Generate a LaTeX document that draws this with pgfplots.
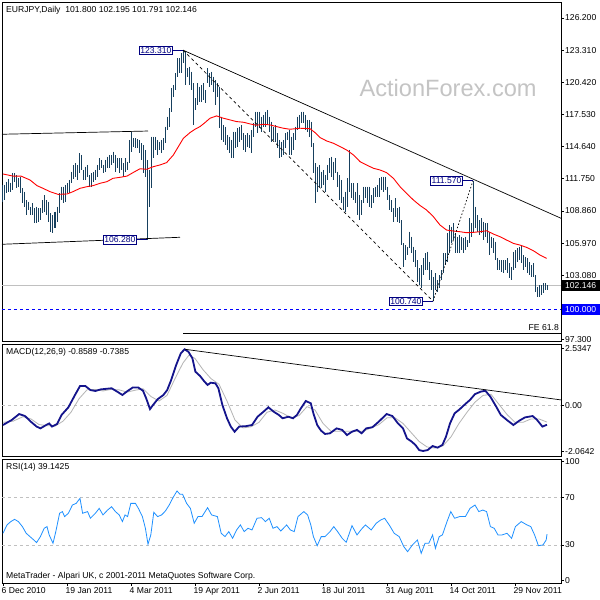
\documentclass[border=0pt]{standalone}
\usepackage{pgfplots}
\pgfplotsset{compat=1.18}
\usepackage{pgfplotstable}
\usepackage{fontspec}
\setmainfont{Liberation Sans}
\newcommand\fs{\fontsize{8.6}{10}\selectfont}

\definecolor{barc}{HTML}{17405E}
\definecolor{macdc}{HTML}{14148C}
\definecolor{sigc}{HTML}{B4B4B4}
\definecolor{rsic}{HTML}{1E90FF}
\definecolor{lvl}{HTML}{C0C0C0}
\definecolor{wm}{HTML}{C4C4C4}
\definecolor{lbl}{HTML}{000080}
\definecolor{pure}{HTML}{0000FF}

% daily bars: index, high, low
\pgfplotstableread{
i h l
0 111.19 109.63
1 111.19 109.84
2 111.49 110.44
3 111.70 110.53
4 111.40 110.59
5 112.24 110.74
6 112.24 111.49
7 112.09 110.89
8 111.79 111.04
9 111.94 110.44
10 110.89 109.60
11 110.59 109.24
12 109.84 108.49
13 109.69 108.94
14 109.24 108.49
15 109.54 108.49
16 109.09 107.74
17 109.24 107.74
18 109.09 107.89
19 109.09 108.04
20 109.84 108.64
21 110.29 108.79
22 109.84 108.49
23 109.69 107.89
24 108.64 106.99
25 108.49 106.90
26 108.79 107.29
27 109.24 107.89
28 110.44 108.64
29 111.04 109.84
30 111.04 109.60
31 111.19 109.69
32 111.34 110.44
33 111.64 110.44
34 112.39 111.34
35 112.99 111.70
36 113.14 111.94
37 112.99 111.64
38 114.04 112.24
39 113.89 112.54
40 112.54 111.64
41 112.84 111.64
42 112.99 111.94
43 112.09 111.04
44 112.24 111.04
45 112.39 111.49
46 112.54 111.64
47 112.99 111.94
48 113.59 112.54
49 113.44 112.69
50 112.99 112.24
51 113.44 112.39
52 113.74 112.69
53 113.89 112.69
54 113.89 112.99
55 114.19 113.14
56 113.89 112.39
57 113.59 112.69
58 113.59 112.24
59 113.59 112.54
60 113.14 111.94
61 113.59 112.39
62 113.29 112.54
63 115.24 113.14
64 115.99 114.19
65 115.39 114.64
66 115.39 114.49
67 115.30 114.49
68 115.24 114.04
69 114.94 113.44
70 114.79 112.24
71 114.34 111.94
72 113.44 106.28
73 112.54 109.24
74 115.54 110.89
75 115.54 113.59
76 115.54 114.34
77 115.24 113.89
78 115.09 114.34
79 115.24 114.04
80 115.39 114.34
81 116.44 114.94
82 117.34 116.14
83 118.09 116.44
84 119.89 117.79
85 120.19 119.14
86 121.24 119.74
87 122.59 120.94
88 122.59 121.24
89 123.04 121.24
90 123.31 122.14
91 123.19 120.19
92 121.69 120.94
93 121.84 120.19
94 121.39 119.74
95 120.34 116.59
96 118.99 117.94
97 120.34 118.39
98 120.04 118.69
99 120.19 118.69
100 120.34 118.84
101 119.74 118.54
102 121.69 120.34
103 121.24 120.04
104 121.39 120.19
105 120.94 119.59
106 120.64 118.39
107 120.34 119.14
108 120.04 116.29
109 117.34 115.24
110 116.59 115.09
111 116.44 114.79
112 115.69 114.34
113 115.54 114.04
114 115.24 113.59
115 115.99 113.59
116 115.99 114.49
117 116.29 114.64
118 116.44 115.09
119 116.59 115.24
120 115.84 114.34
121 115.69 114.19
122 115.84 114.64
123 115.69 114.49
124 116.14 114.04
125 116.74 115.54
126 117.79 116.44
127 117.79 115.84
128 117.79 116.29
129 117.34 115.99
130 117.49 116.44
131 117.79 116.44
132 117.94 116.59
133 117.34 115.99
134 116.89 115.09
135 116.44 115.24
136 116.59 115.09
137 115.84 114.49
138 115.24 113.59
139 115.09 113.74
140 115.24 113.89
141 115.84 114.49
142 115.99 115.24
143 116.14 113.89
144 115.54 113.89
145 115.84 114.34
146 116.44 115.24
147 117.34 116.14
148 117.49 116.29
149 117.79 116.74
150 117.79 116.74
151 117.49 116.14
152 117.04 115.99
153 117.04 115.54
154 116.89 114.64
155 114.94 112.24
156 113.14 109.54
157 112.84 110.59
158 112.99 111.04
159 112.39 110.89
160 112.54 111.19
161 112.09 110.59
162 112.99 111.64
163 113.59 112.24
164 113.74 111.94
165 113.29 111.64
166 113.59 112.24
167 112.39 111.04
168 112.09 109.84
169 111.64 109.54
170 110.14 108.94
171 110.59 108.79
172 111.79 109.24
173 114.34 110.59
174 111.34 109.99
175 111.34 109.84
176 110.59 109.54
177 111.34 108.49
178 110.29 108.04
179 109.84 108.49
180 111.04 109.54
181 111.04 109.99
182 111.04 109.54
183 111.04 109.24
184 110.29 109.09
185 110.89 109.54
186 111.04 110.14
187 111.19 110.14
188 111.79 110.14
189 111.94 110.74
190 111.94 110.59
191 111.94 110.74
192 111.04 109.84
193 110.29 108.94
194 109.84 108.79
195 109.09 107.89
196 109.99 108.34
197 109.09 107.89
198 109.24 107.74
199 108.04 105.79
200 105.94 103.84
201 105.79 104.44
202 105.64 104.89
203 106.99 105.49
204 106.54 105.04
205 105.64 104.29
206 105.34 103.84
207 104.44 102.49
208 103.69 102.19
209 103.99 101.89
210 104.59 103.09
211 105.04 103.54
212 105.19 103.54
213 104.29 102.64
214 103.54 101.74
215 102.94 100.74
216 103.24 101.74
217 102.64 101.59
218 103.09 101.89
219 103.54 102.64
220 105.04 103.24
221 105.04 103.99
222 106.84 104.29
223 107.59 105.04
224 107.44 105.94
225 107.74 106.24
226 106.84 105.04
227 106.54 105.04
228 106.69 105.04
229 106.54 105.34
230 106.39 105.04
231 106.54 105.34
232 106.24 105.64
233 108.19 105.94
234 107.74 106.54
235 111.57 106.84
236 109.24 107.29
237 108.49 106.99
238 108.04 106.69
239 108.19 106.84
240 107.89 106.24
241 107.74 106.54
242 107.74 105.94
243 106.99 104.89
244 106.54 105.49
245 106.39 105.04
246 106.09 104.44
247 104.59 103.54
248 104.44 103.54
249 104.44 103.39
250 104.44 103.24
251 104.44 103.54
252 104.59 103.24
253 104.14 102.79
254 103.84 102.64
255 105.19 103.54
256 105.34 103.69
257 105.49 104.29
258 105.64 104.44
259 105.79 104.14
260 104.89 103.54
261 104.74 103.84
262 104.59 103.24
263 104.29 103.09
264 103.99 102.94
265 104.14 102.94
266 103.09 101.59
267 102.04 101.14
268 102.19 101.14
269 102.19 101.29
270 102.34 101.44
271 102.34 101.74
272 102.20 101.79
}\bars

\pgfplotstableread{
i v
0 112.18
5 111.99
9 111.99
13.5 111.64
17 111.13
20 110.89
23.5 110.59
27.5 110.35
32 110.38
35 110.59
38.5 110.89
42 111.04
45 111.13
48.5 111.34
52 111.49
55 111.79
58.5 111.88
62 111.99
65 112.30
68.5 112.65
71.8 112.60
75.2 112.84
78.5 112.99
81.8 113.20
85.2 113.89
87.7 114.64
90.2 115.39
93.5 115.90
96 116.20
98.5 116.44
101 116.80
103.5 117.19
106.8 117.40
110.2 117.19
113.5 117.04
116.8 116.89
120.2 116.83
123.5 116.68
126.8 116.56
130.2 116.65
133.5 116.59
136.8 116.44
140.2 116.29
143.5 116.20
148.5 116.29
153.5 116.25
156 115.90
158.5 115.45
161.8 115.15
165.2 114.94
168.5 114.64
171.8 114.34
175.2 113.89
178.5 113.29
181.8 112.99
185.2 112.69
188.5 112.54
191.8 112.30
195.2 111.79
198.5 111.04
201.8 110.44
205.2 109.84
208.5 109.35
211.8 108.94
215.2 108.34
218.5 107.59
221.8 107.14
225.2 107.05
228.5 106.99
231.8 106.90
235.2 106.93
238.5 106.99
241.8 107.08
245.2 106.78
248.5 106.54
251.8 106.24
255.2 105.94
258.5 105.79
261.8 105.58
265.2 105.28
268.5 104.89
271.8 104.59
}\ma

\pgfplotstableread{
i v
0 -0.87
4.3 -0.65
8.1 -0.38
11 -0.47
13.9 -0.72
16.8 -0.94
18.7 -1.02
21.6 -0.87
23.1 -0.80
24.5 -0.94
27 -0.83
29.3 -0.42
32.7 -0.08
36 0.47
38.5 0.87
41.2 0.87
43.7 0.69
46.2 0.65
48.9 0.72
54.3 0.77
57.1 0.62
59.7 0.47
62.3 0.65
64.8 0.80
67.7 0.80
70 0.66
71.6 0.32
73.5 -0.16
75 0.02
77.3 0.28
80.2 0.47
82.1 0.69
84.1 1.14
86.6 1.81
88.9 2.33
90.8 2.51
92.7 2.40
94.7 2.11
96.2 1.51
98.5 1.32
100.8 1.06
102.3 0.92
103.9 1.02
106.2 0.99
107.7 0.77
109.7 0.02
112 -0.57
113.9 -0.94
115.8 -1.17
118.1 -0.94
121.6 -0.92
124.5 -0.87
127.3 -0.50
130.2 -0.28
132.7 -0.08
135.4 -0.28
137.9 -0.42
139.8 -0.57
142.7 -0.50
145 -0.57
147 -0.42
148.9 -0.13
151.4 0.20
153.9 0.10
155.2 -0.35
157.1 -0.87
159 -1.12
161 -1.27
163.5 -1.24
166.8 -1.02
169.6 -1.09
172 -1.32
174.5 -1.17
177 -1.09
179.3 -1.24
181.6 -1.02
184.7 -0.97
187.9 -0.72
191.8 -0.38
194.7 -0.47
197.5 -0.80
200 -1.02
202 -1.47
204.3 -1.61
206.2 -1.76
208.1 -1.99
210 -2.03
212.3 -1.99
214.8 -1.81
217.3 -1.88
219.7 -1.76
221.5 -1.39
223.5 -0.80
225.8 -0.35
228.3 -0.17
231.2 0.07
233.5 0.25
236 0.51
238.9 0.62
241.2 0.66
243.7 0.39
246.6 -0.05
248.9 -0.42
252 -0.65
255.2 -0.87
258.1 -0.68
261 -0.53
264.8 -0.47
266.8 -0.62
269.7 -0.94
272 -0.86
}\macd

\pgfplotstableread{
i v
0 -0.75
5 -0.70
10 -0.50
14 -0.60
18 -0.85
22 -0.90
26 -0.92
30 -0.70
34 -0.30
38 0.30
42 0.70
46 0.72
50 0.65
54 0.72
58 0.70
62 0.60
66 0.68
70 0.75
74 0.40
78 0.20
82 0.45
86 1.20
90 1.90
93 2.25
96 2.10
100 1.60
104 1.20
108 0.95
112 0.20
116 -0.65
120 -1.00
124 -0.95
128 -0.75
132 -0.30
136 -0.20
140 -0.35
144 -0.55
148 -0.45
152 -0.05
156 -0.20
160 -0.80
164 -1.15
168 -1.15
172 -1.15
176 -1.15
180 -1.15
184 -1.00
188 -0.85
192 -0.55
196 -0.55
200 -0.80
204 -1.20
208 -1.60
212 -1.85
216 -1.90
220 -1.80
224 -1.40
228 -0.80
232 -0.30
236 0.15
240 0.45
244 0.50
248 0.05
252 -0.40
256 -0.75
260 -0.75
264 -0.60
268 -0.60
272 -0.74
}\sig

\pgfplotstableread{
i v
0 39.8
2 46.8
3.9 49.6
5.8 51.5
7.7 49.6
9.7 45.4
11.6 39.8
13.5 37.0
15.4 34.2
16.8 32.0
18.7 37.0
20.6 44.0
22 45.4
23.1 38.4
25 31.4
26.4 41.2
28.3 56.6
29.7 58.0
30.8 53.8
32.7 56.6
34.7 63.5
36.6 64.9
38.5 69.1
39.8 56.6
42.3 58.0
43.7 52.4
46.2 56.6
48.1 60.7
50 55.2
52.3 59.3
54.3 62.1
56.2 58.0
58.1 55.2
59.7 49.6
61 55.2
62.3 53.8
63.9 64.9
66.2 64.9
67.7 60.7
69.7 53.8
71.2 44.0
72.5 30.6
73.9 38.4
75.4 57.4
77.3 53.8
79.3 55.2
81.2 58.5
83.1 63.5
85 69.7
87 75.3
88.5 72.5
89.8 72.5
91.8 64.9
93.7 60.7
95.6 48.2
97.5 53.8
99.5 53.8
102.3 61.3
104.3 55.2
107.2 53.8
109.1 39.8
111 37.0
112.9 41.2
114.8 35.6
116.8 42.6
118.7 46.8
120.6 41.2
122.5 44.0
124.5 42.6
127 52.4
129.3 52.9
131.2 49.6
133.1 52.4
135 44.0
137 45.4
138.9 41.7
141.8 46.8
143.7 42.6
145.6 41.2
147.5 53.8
150.4 58.0
152.3 55.2
153.9 46.8
155.2 37.0
157.1 29.4
159.1 37.0
161 37.0
163.5 41.2
165.4 45.4
167.3 41.2
169.6 35.6
171.6 32.2
174.5 46.2
177 38.4
179.3 43.4
181.2 46.8
184.1 42.6
186.6 48.2
188.9 51.0
190.8 52.4
193.1 46.8
195.6 39.8
198.1 37.0
200.4 28.6
202.3 24.4
204.7 30.0
207.2 34.2
209.1 23.0
211 31.4
212.9 31.4
214.8 38.4
216.2 27.2
218.1 37.0
219.7 38.4
222 49.6
223.9 58.0
225.8 52.4
228.3 53.8
231.2 53.8
233.5 60.7
236 63.5
237.9 58.0
239.9 59.3
241.8 58.0
243.7 45.4
245.6 44.0
247.5 38.4
249.5 38.4
252 39.8
254.3 35.6
256.2 45.4
259.1 49.6
262 46.8
263.9 45.4
265.8 38.4
267.7 29.4
270 30.0
271.6 34.2
272 39.1
}\rsi

\pgfplotsset{
  panel/.style={
    scale only axis, anchor=north west, width=559pt,
    xmin=-0.5, xmax=279, xtick=\empty,
    axis line style={black, line width=0.8pt},
    ytick pos=right, yticklabel pos=right, ytick align=outside,
    major tick length=3pt, tick style={black, line width=0.6pt},
    yticklabel style={font=\fs, inner sep=1pt},
    clip mode=individual,
  },
}
\tikzset{
  tag/.style={anchor=east, draw=lbl, fill=white, text=lbl, font=\fs,
    inner sep=1.2pt, line width=0.7pt},
}

\begin{document}
\begin{tikzpicture}
\fill[white] (0,0) rectangle (600pt,-600pt);
\path[use as bounding box] (0,0) rectangle (600pt,-600pt);

% ---------- price panel ----------
\begin{axis}[panel, at={(2pt,-2pt)}, height=339pt,
  ymin=97.166, ymax=127.638,
  ytick={126.2,123.31,120.42,117.53,114.64,111.75,108.86,105.97,103.08,97.3},
  yticklabels={126.200,123.310,120.420,117.530,114.640,111.750,108.860,105.970,103.080,97.300}]
\node[text=wm, font=\fontsize{23.6}{24}\selectfont] at (rel axis cs:0.798,0.746) {ActionForex.com};
\draw[lvl, line width=0.7pt] (axis cs:-0.5,102.146) -- (axis cs:279,102.146);
\draw[pure, line width=1pt, dash pattern=on 3pt off 3pt] (axis cs:-0.5,100) -- (axis cs:279,100);
\draw[black, line width=0.7pt] (axis cs:90,97.89) -- (axis cs:279,97.89);
\node[anchor=south east, font=\fs, inner sep=1pt] at (axis cs:278.5,97.89) [yshift=1pt] {FE 61.8};

\addplot[draw=none, mark=none, forget plot, error bars/.cd, y dir=minus, y explicit,
  error mark=none, error bar style={draw=barc, line width=1pt}]
  table[x=i, y=h, y error minus expr=\thisrow{h}-\thisrow{l}] {\bars};
\addplot[red, line width=0.9pt, mark=none] table[x=i, y=v] {\ma};

\draw[black, line width=0.7pt] (axis cs:-0.5,115.75) -- (axis cs:72.5,116.04);
\draw[black, line width=0.7pt] (axis cs:-0.5,105.86) -- (axis cs:88.5,106.49);
\draw[black, line width=0.7pt] (axis cs:90,123.31) -- (axis cs:279,108.20);
\draw[black, line width=0.7pt, dash pattern=on 3pt off 3pt] (axis cs:90,123.31) -- (axis cs:215,100.74);
\draw[black, line width=0.7pt, dash pattern=on 1.5pt off 2pt] (axis cs:215,100.74) -- (axis cs:235,111.57);

\draw[lbl, line width=0.7pt] (axis cs:90,123.31) -- ++(-10pt,0pt) node[tag] {123.310};
\draw[lbl, line width=0.7pt] (axis cs:72,106.28) -- ++(-10pt,0pt) node[tag] {106.280};
\draw[lbl, line width=0.7pt] (axis cs:235,111.57) -- ++(-10pt,0pt) node[tag] {111.570};
\draw[lbl, line width=0.7pt] (axis cs:215,100.74) -- ++(-10pt,0pt) node[tag] {100.740};

\node[anchor=west, fill=black, text=white, font=\fs, inner sep=1pt, minimum width=38pt, minimum height=11pt]
  at (axis cs:279,102.146) [xshift=0.5pt] {102.146};
\node[anchor=west, fill=pure, text=white, font=\fs, inner sep=1pt, minimum width=38pt, minimum height=11pt]
  at (axis cs:279,100) [xshift=0.5pt] {100.000};
\node[anchor=north west, font=\fs, inner sep=1pt] at (rel axis cs:0,1) [xshift=3pt, yshift=-3pt]
  {EURJPY,Daily\ \ 101.800 102.195 101.791 102.146};
\end{axis}

% ---------- MACD panel ----------
\begin{axis}[panel, at={(2pt,-344pt)}, height=112pt,
  ymin=-2.254, ymax=2.746,
  ytick={2.5347,0,-2.0642}, yticklabels={2.5347,0.00,-2.0642}]
\draw[lvl, line width=0.7pt, dash pattern=on 3pt off 3pt] (axis cs:-0.5,0) -- (axis cs:279,0);
\addplot[sigc, line width=0.8pt, mark=none] table[x=i, y=v] {\sig};
\addplot[macdc, line width=1.8pt, mark=none] table[x=i, y=v] {\macd};
\draw[black, line width=0.7pt] (axis cs:91,2.51) -- (axis cs:279,0.25);
\node[anchor=north west, font=\fs, inner sep=1pt] at (rel axis cs:0,1) [xshift=3pt, yshift=-3pt]
  {MACD(12,26,9) -0.8589 -0.7385};
\end{axis}

% ---------- RSI panel ----------
\begin{axis}[panel, at={(2pt,-459pt)}, height=124pt,
  ymin=-1.9, ymax=102.1,
  ytick={0,30,70,100}, yticklabels={0,30,70,100},
  xtick={0,32,64,96,128,160,192,224,256},
  xticklabels={6 Dec 2010,19 Jan 2011,4 Mar 2011,19 Apr 2011,2 Jun 2011,18 Jul 2011,31 Aug 2011,14 Oct 2011,29 Nov 2011},
  xtick pos=bottom, xticklabel pos=bottom, xtick align=outside,
  xticklabel style={font=\fs, anchor=north west, inner sep=0pt, xshift=-1.5pt, yshift=-1.5pt}]
\draw[lvl, line width=0.7pt, dash pattern=on 3pt off 3pt] (axis cs:-0.5,70) -- (axis cs:279,70);
\draw[lvl, line width=0.7pt, dash pattern=on 3pt off 3pt] (axis cs:-0.5,30) -- (axis cs:279,30);
\addplot[rsic, line width=0.8pt, mark=none] table[x=i, y=v] {\rsi};
\node[anchor=north west, font=\fs, inner sep=1pt] at (rel axis cs:0,1) [xshift=3pt, yshift=-3pt]
  {RSI(14) 39.1425};
\node[anchor=south west, font=\fs, inner sep=1pt] at (rel axis cs:0,0) [xshift=3pt, yshift=2pt]
  {MetaTrader - Alpari UK, c 2001-2011 MetaQuotes Software Corp.};
\end{axis}
\end{tikzpicture}
\end{document}
